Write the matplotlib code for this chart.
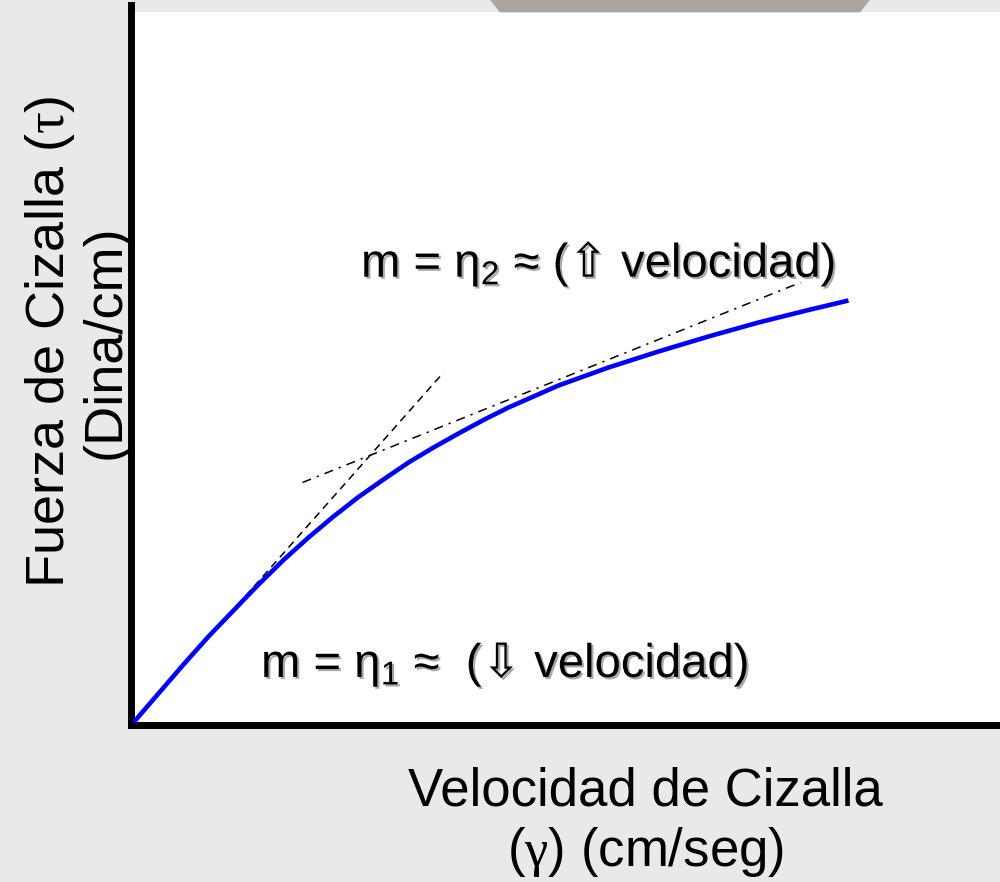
import matplotlib
matplotlib.use('Agg')
import matplotlib.pyplot as plt
import matplotlib.patheffects as pe
from matplotlib.patches import Rectangle, Polygon

plt.rcParams['font.family'] = ['Liberation Sans', 'DejaVu Sans']
# math text: sans body, upright serif greek (tau, gamma), DejaVu for the arrows
plt.rcParams['mathtext.fontset'] = 'custom'
plt.rcParams['mathtext.rm'] = 'Liberation Sans'
plt.rcParams['mathtext.it'] = 'Liberation Serif'
plt.rcParams['mathtext.sf'] = 'DejaVu Sans'

# shear rate vs shear stress (pseudoplastic fluid)
shear_rate = [3, 28, 53, 78, 103, 128, 153, 178, 203, 228, 253, 278, 303,
              328, 353, 378, 403, 428, 453, 478, 528, 578, 628, 678, 718]
shear_stress = [3, 32, 61, 89, 115, 141, 165.5, 188, 209, 228.5, 246, 263, 278,
                292, 305.5, 318, 329, 340, 349, 358, 374, 389, 403, 415.5, 425]

# tangent at low rate (eta 1) and at high rate (eta 2)
tan_low_x = [3, 313]
tan_low_y = [3, 353]
tan_high_x = [172, 670]
tan_high_y = [243, 443]

label_high = 'm = $\\mathrm{\\eta_2}$ ≈ ($\\mathsf{⇧}$ velocidad)'
label_low = 'm = $\\mathrm{\\eta_1}$ ≈  ($\\mathsf{⇩}$ velocidad)'

fig = plt.figure(figsize=(10, 8.82), dpi=100)
fig.patch.set_facecolor('#e9e9eb')

# darker band of the backdrop along the top edge
fig.patches.append(Polygon([[0.49, 1.0], [0.87, 1.0], [0.86, 0.986], [0.50, 0.986]],
                           closed=True, transform=fig.transFigure,
                           facecolor='#aaa5a0', edgecolor='none', zorder=0))

ax = fig.add_axes([0.1305, 0.17744, 0.8695, 0.8169])
ax.set_facecolor('none')
ax.add_patch(Rectangle((0, 0), 1, 0.9903, transform=ax.transAxes,
                       facecolor='white', edgecolor='none', zorder=0))

ax.plot(shear_rate, shear_stress, color='#0000ff', lw=3.3, solid_capstyle='butt',
        solid_joinstyle='round', zorder=3)
ax.plot(tan_low_x, tan_low_y, color='black', lw=1.1, linestyle=(0, (5, 3.5)), zorder=2)
ax.plot(tan_high_x, tan_high_y, color='black', lw=1.1, linestyle=(0, (6, 4, 1.5, 4)), zorder=2)

ax.set_xlim(0, 869.5)
ax.set_ylim(0, 720.5)
ax.set_xticks([])
ax.set_yticks([])
for side in ['top', 'right']:
    ax.spines[side].set_visible(False)
for side in ['left', 'bottom']:
    ax.spines[side].set_linewidth(5)
    ax.spines[side].set_color('black')

shadow = [pe.SimplePatchShadow(offset=(1.5, -1.5), shadow_rgbFace='#555555', alpha=0.5), pe.Normal()]
ax.text(230.5, 448.5, label_high, fontsize=34, ha='left', va='baseline',
        path_effects=shadow, zorder=4)
ax.text(130.5, 48.5, label_low, fontsize=34, ha='left', va='baseline',
        path_effects=shadow, zorder=4)

fig.text(0.077, 0.6122, 'Fuerza de Cizalla ($\\tau$)\n(Dina/cm)',
         rotation=90, fontsize=39, ha='center', va='center', multialignment='center',
         linespacing=1.1)
fig.text(0.645, 0.0669, 'Velocidad de Cizalla\n($\\gamma$) (cm/seg)',
         fontsize=38, ha='center', va='center', multialignment='center')

fig.savefig('out.png', dpi=100, facecolor=fig.get_facecolor())
